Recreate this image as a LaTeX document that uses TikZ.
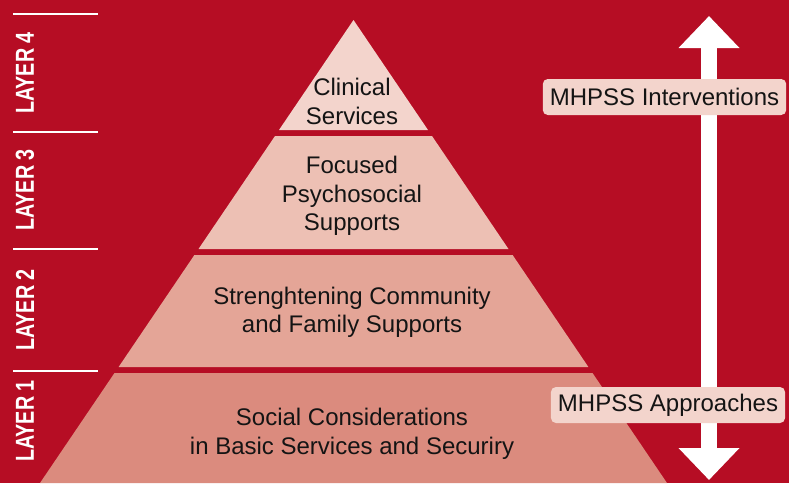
\documentclass[tikz,border=0pt]{standalone}
\usepackage{fontspec}
\setmainfont{Liberation Sans}
\newfontfamily\layerfont{Liberation Sans}[FakeStretch=0.76]
\usetikzlibrary{arrows.meta}
\usetikzlibrary{positioning}

\definecolor{bgred}{RGB}{182,13,36}
\definecolor{tierfour}{RGB}{243,212,204}
\definecolor{tierthree}{RGB}{237,192,180}
\definecolor{tiertwo}{RGB}{228,165,151}
\definecolor{tierone}{RGB}{219,139,126}
\definecolor{inkgrey}{RGB}{20,20,20}

\begin{document}
\begin{tikzpicture}[x=1pt,y=-1pt,
    tiertext/.style={font=\fontsize{24}{28.5}\selectfont,text=inkgrey,align=center},
    layerlab/.style={font=\layerfont\bfseries\fontsize{26}{26}\selectfont,text=white,rotate=90},
    tag/.style={fill=tierfour,rounded corners=5pt,minimum height=36pt,inner xsep=7pt,
                font=\fontsize{24}{28}\selectfont,text=inkgrey},
    sepline/.style={white,line width=2.5pt},
    bigarrow/.style={white,line width=16pt,
                {Triangle[length=32pt,width=59pt]}-{Triangle[length=32pt,width=59pt]}}]
          \useasboundingbox (0,0) rectangle (789,483);
          \fill[bgred] (0,0) rectangle (789,483);
          % pyramid tiers
          \fill[tierfour] (353.5,20) -- (428,130) -- (279,130) -- cycle;
          \fill[tierthree] (275,136) -- (432,136) -- (508.5,249) -- (198.5,249) -- cycle;
          \fill[tiertwo] (194.4,255) -- (512.6,255) -- (588.4,367) -- (118.6,367) -- cycle;
          \fill[tierone] (114.5,373) -- (592.5,373) -- (667,483) -- (40,483) -- cycle;
          \node[tiertext] (clinical) at (352,101.5) {Clinical\\Services};
          \node[tiertext] (focused) at (352,196) {Focused\\Psychosocial\\Supports};
          \node[tiertext] (community) at (352,312.5) {Strenghtening Community\\and Family Supports};
          \node[tiertext] (basic) at (352,434) {Social Considerations\\in Basic Services and Securiry};
          % layer scale on the left
          \draw[sepline] (13,14) -- (98,14);
          \draw[sepline] (13,132) -- (98,132);
          \draw[sepline] (13,249) -- (98,249);
          \draw[sepline] (13,371) -- (98,371);
          \node[layerlab] (layerFour) at (25,73) {LAYER 4};
          \node[layerlab] (layerThree) at (25,190) {LAYER 3};
          \node[layerlab] (layerTwo) at (25,310) {LAYER 2};
          \node[layerlab] (layerOne) at (25,421) {LAYER 1};
          % double arrow with its tags
          \coordinate (arrowTop) at (709,16);
          \coordinate (arrowBottom) at (709,480);
          \draw[bigarrow] (arrowBottom) -- (arrowTop);
          \node[tag] (interventions) at (664.5,97) {MHPSS Interventions};
          \node[tag] (approaches) at (668,405) {MHPSS Approaches};
        \end{tikzpicture}
\end{document}
